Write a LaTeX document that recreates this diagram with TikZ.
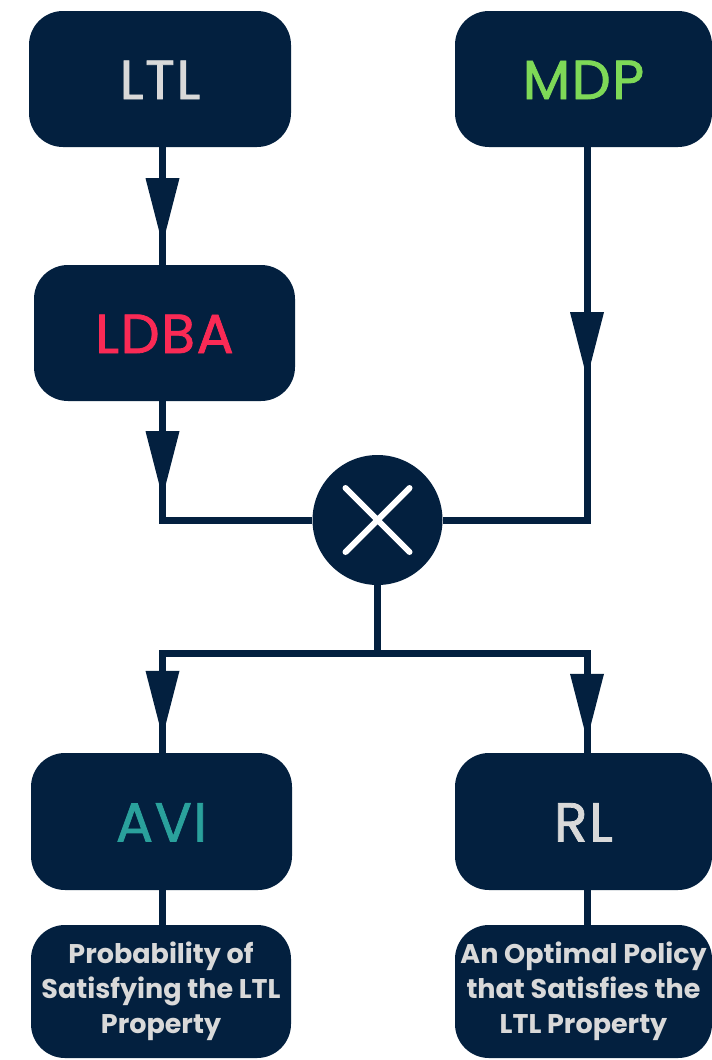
\documentclass[tikz,border=0pt]{standalone}
\usepackage{fontspec}
\setmainfont{Poppins}
\newfontfamily\labelfont{Poppins}[FakeBold=1.4, LetterSpace=3]
\usetikzlibrary{decorations.markings}

\definecolor{navy}{HTML}{03203F}
\definecolor{labelgray}{HTML}{D9D9D9}
\definecolor{ldbared}{HTML}{FA2A55}
\definecolor{mdpgreen}{HTML}{7ED957}
\definecolor{aviteal}{HTML}{2AA19C}

\begin{document}
\begin{tikzpicture}[x=1pt, y=-1pt,
  box/.style={fill=navy, rounded corners=34pt, minimum height=136pt,
    inner sep=0pt, font=\labelfont\fontsize{55}{60}\selectfont,
    text height=40pt, text depth=0pt},
  note/.style={fill=navy, rounded corners=34pt, minimum height=133pt,
    inner sep=0pt, align=center, text=labelgray,
    font=\bfseries\fontsize{27}{35}\selectfont},
  wire/.style={draw=navy, line width=7pt},
  arrowat/.style={postaction={decorate}, decoration={markings,
    mark=at position #1 with {\fill[navy] (0pt,17pt) -- (66pt,0pt) -- (0pt,-17pt) -- cycle;}}}
]
\fill[white] (0,0) rectangle (712,1060);
\useasboundingbox (0,0) rectangle (712,1060);

% columns of the vertical wires
\coordinate (cL) at (162.5,0);
\coordinate (cR) at (587,0);

% blocks
\node[box, minimum width=262pt, text=labelgray] (ltl) at (160,79) {LTL};
\node[box, minimum width=257pt, text=mdpgreen] (mdp) at (583.5,79) {MDP};
\node[box, minimum width=261pt, text=ldbared] (ldba) at (164.5,333) {LDBA};
\node[circle, fill=navy, minimum size=130pt, inner sep=0pt] (prod) at (377.5,520) {};
\node[box, minimum width=261pt, minimum height=137pt, text=aviteal] (avi) at (161.5,821.5) {AVI};
\node[box, minimum width=257pt, minimum height=137pt, text=labelgray] (rl) at (583.5,821.5) {RL};
\node[note, minimum width=260pt] (prob) at (161,991.5)
  {Probability of\\Satisfying the LTL\\Property};
\node[note, minimum width=257pt] (opt) at (583.5,991.5)
  {An Optimal Policy\\that Satisfies the\\LTL Property};

% product symbol
\draw[white, line width=6pt, line cap=round]
  ([shift={(-32,-32)}]prod.center) -- ([shift={(32,32)}]prod.center)
  ([shift={(32,-32)}]prod.center) -- ([shift={(-32,32)}]prod.center);

% connectors
\draw[wire, arrowat=31pt] (ltl.south -| cL) -- (ldba.north -| cL);
\draw[wire, arrowat=30pt] (ldba.south -| cL) |- (prod.west);
\draw[wire, arrowat=165pt] (mdp.south -| cR) |- (prod.east);
\coordinate (split) at (377.5,653);
\draw[wire] (prod.south) -- (split);
\draw[wire, arrowat=-82pt] (split) -| (avi.north -| cL);
\draw[wire, arrowat=-79pt] (split) -| (rl.north -| cR);
\draw[wire] (avi.south -| cL) -- (prob.north -| cL);
\draw[wire] (rl.south -| cR) -- (opt.north -| cR);
\end{tikzpicture}
\end{document}
